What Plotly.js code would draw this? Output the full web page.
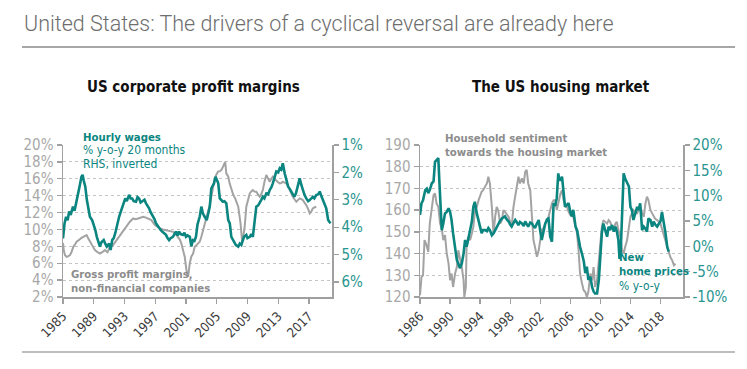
<!DOCTYPE html>
<html>
<head>
<meta charset="utf-8">
<script src="https://cdn.plot.ly/plotly-3.0.1.min.js"></script>
<style>html,body{margin:0;padding:0;background:#fff;}#chart{width:747px;height:369px;}</style>
</head>
<body>
<div id="chart"></div>
<script>
// ---------- Data ----------
// Left panel: gross profit margins, non-financial companies (%), LHS
var marginYears = [1985.0,1985.1,1985.26,1985.48,1985.7,1985.91,1986.1,1986.34,1986.55,1986.77,1987.0,1987.21,1987.4,1987.64,1987.85,1988.07,1988.29,1988.5,1988.72,1988.95,1989.16,1989.5,1989.8,1990.1,1990.45,1990.8,1991.1,1991.5,1991.97,1992.4,1992.84,1993.27,1993.7,1994.13,1994.45,1994.78,1995.1,1995.43,1995.8,1996.08,1996.5,1996.95,1997.3,1997.6,1998.0,1998.46,1998.9,1999.33,1999.7,1999.98,2000.2,2000.4,2000.6,2000.84,2001.06,2001.28,2001.49,2001.7,2001.93,2002.14,2002.36,2002.57,2002.79,2003.0,2003.2,2003.4,2003.6,2003.87,2004.1,2004.3,2004.5,2004.7,2004.9,2005.17,2005.4,2005.6,2005.8,2005.95,2006.1,2006.25,2006.5,2006.7,2006.9,2007.15,2007.4,2007.6,2007.8,2008.1,2008.3,2008.45,2008.64,2008.85,2009.1,2009.3,2009.5,2009.7,2009.9,2010.15,2010.4,2010.6,2010.8,2011.0,2011.2,2011.45,2011.7,2011.9,2012.1,2012.3,2012.5,2012.75,2013.0,2013.2,2013.4,2013.6,2013.85,2014.05,2014.3,2014.5,2014.7,2014.9,2015.1,2015.36,2015.6,2015.8,2016.0,2016.2,2016.4,2016.65,2016.9,2017.1,2017.3,2017.5,2017.7,2017.95];
var marginValues = [8.4,7.5,6.96,6.76,6.85,6.96,7.3,7.94,8.2,8.54,8.7,8.93,9.0,9.13,9.2,9.33,8.93,8.6,8.34,7.9,7.55,7.3,7.15,7.3,7.55,7.3,7.94,8.14,8.74,9.33,9.92,10.51,10.91,11.3,11.2,11.3,11.4,11.5,11.4,11.3,11.11,10.51,10.3,10.12,10.0,9.92,9.8,9.72,9.4,9.13,8.8,8.34,7.5,6.76,5.18,4.39,5.97,6.8,7.15,7.94,8.14,8.34,8.54,9.13,9.8,10.32,11.0,11.9,12.9,13.87,14.9,15.85,16.4,16.84,16.9,17.04,17.4,17.83,18.0,16.64,16.25,15.4,14.66,14.1,13.68,13.2,12.69,10.71,8.6,9.13,10.32,12.69,13.6,14.27,14.5,14.66,14.5,14.47,14.1,13.87,14.2,14.66,15.6,16.44,16.0,15.65,16.0,16.25,16.0,15.85,15.6,15.45,15.5,15.65,15.5,15.45,15.1,14.66,14.3,13.87,13.6,13.28,13.5,13.68,13.6,13.48,13.2,12.89,12.4,11.9,12.1,12.49,12.6,12.69];

// Left panel: hourly wages % y-o-y, led 20 months, RHS inverted
var wageYears = [1985.0,1985.2,1985.4,1985.6,1985.8,1986.0,1986.3,1986.5,1986.7,1987.0,1987.2,1987.4,1987.55,1987.7,1987.9,1988.1,1988.3,1988.5,1988.8,1989.0,1989.2,1989.4,1989.6,1989.8,1990.0,1990.3,1990.5,1990.7,1991.0,1991.2,1991.4,1991.6,1991.8,1992.0,1992.3,1992.5,1992.7,1992.9,1993.1,1993.3,1993.6,1993.8,1994.0,1994.2,1994.5,1994.7,1994.9,1995.1,1995.3,1995.6,1995.8,1996.0,1996.2,1996.4,1996.6,1996.9,1997.1,1997.3,1997.5,1997.7,1997.9,1998.1,1998.4,1998.6,1998.8,1999.0,1999.3,1999.5,1999.7,1999.9,2000.1,2000.3,2000.6,2000.8,2001.0,2001.2,2001.5,2001.7,2001.9,2002.1,2002.3,2002.5,2002.8,2003.0,2003.2,2003.4,2003.7,2003.9,2004.1,2004.3,2004.5,2004.65,2004.85,2005.0,2005.2,2005.4,2005.6,2005.8,2006.0,2006.25,2006.5,2006.7,2006.9,2007.1,2007.3,2007.5,2007.8,2008.0,2008.2,2008.4,2008.55,2008.85,2009.0,2009.3,2009.5,2009.7,2009.94,2010.15,2010.4,2010.6,2010.8,2011.0,2011.2,2011.45,2011.7,2011.9,2012.1,2012.3,2012.5,2012.75,2013.0,2013.2,2013.4,2013.6,2013.85,2014.1,2014.3,2014.5,2014.7,2014.9,2015.1,2015.3,2015.5,2015.8,2016.0,2016.2,2016.4,2016.65,2016.9,2017.1,2017.3,2017.5,2017.7,2017.95,2018.2,2018.4,2018.6,2018.8,2019.0,2019.25,2019.5,2019.8];
var wageValues = [4.41,3.86,3.62,3.75,3.43,3.55,3.25,3.4,3.13,2.64,2.45,2.16,2.09,2.3,2.52,3.0,3.3,3.62,3.75,3.92,4.1,4.35,4.5,4.71,4.55,4.47,4.6,4.71,4.6,4.83,4.47,4.4,4.22,3.95,3.62,3.45,3.25,3.05,2.95,3.05,2.82,2.95,2.95,3.05,3.07,2.9,2.95,3.1,3.07,3.0,3.13,3.2,3.31,3.45,3.55,3.7,3.86,3.95,4.04,4.1,4.16,4.2,4.28,4.4,4.47,4.4,4.35,4.25,4.16,4.3,4.16,4.25,4.28,4.2,4.35,4.3,4.35,4.7,4.47,4.5,4.35,3.9,3.6,3.25,3.49,3.6,3.74,3.5,3.25,2.58,2.45,2.4,2.16,2.3,2.4,2.95,3.0,3.07,3.05,3.13,3.74,3.86,4.35,4.45,4.59,4.65,4.71,4.6,4.65,4.45,4.35,4.28,4.4,4.35,4.25,4.35,3.86,3.25,3.2,3.07,3.0,2.89,2.95,2.77,2.8,2.64,2.55,2.4,2.2,1.97,2.0,1.85,1.9,1.67,2.04,2.3,2.52,2.6,2.7,2.8,2.89,2.77,2.5,2.22,2.45,2.64,2.8,2.95,3.05,3.01,2.95,2.89,2.95,2.83,2.8,2.7,2.85,3.01,3.15,3.31,3.74,3.86];

// Right panel: household sentiment towards the housing market (index), LHS
var sentYears = [1986.0,1986.2,1986.4,1986.6,1986.8,1987.1,1987.3,1987.56,1987.8,1988.0,1988.2,1988.44,1988.67,1988.9,1989.1,1989.33,1989.56,1989.8,1990.0,1990.2,1990.4,1990.67,1990.9,1991.1,1991.3,1991.56,1991.8,1991.9,1992.1,1992.2,1992.4,1992.67,1992.9,1993.1,1993.33,1993.56,1993.8,1994.0,1994.2,1994.4,1994.67,1994.9,1995.1,1995.3,1995.56,1995.78,1996.0,1996.2,1996.4,1996.67,1996.9,1997.1,1997.3,1997.55,1997.8,1998.0,1998.2,1998.44,1998.67,1998.9,1999.1,1999.3,1999.56,1999.8,2000.0,2000.2,2000.4,2000.67,2000.9,2001.1,2001.3,2001.56,2001.8,2002.0,2002.2,2002.45,2002.67,2002.9,2003.1,2003.33,2003.56,2003.78,2004.0,2004.2,2004.45,2004.7,2004.9,2005.1,2005.3,2005.56,2005.78,2006.0,2006.2,2006.4,2006.7,2006.9,2007.1,2007.3,2007.56,2007.78,2008.0,2008.2,2008.4,2008.67,2008.9,2009.1,2009.3,2009.56,2009.8,2010.0,2010.2,2010.4,2010.67,2010.9,2011.1,2011.3,2011.56,2011.8,2012.0,2012.2,2012.4,2012.67,2012.9,2013.1,2013.3,2013.56,2013.8,2014.0,2014.2,2014.4,2014.67,2014.9,2015.1,2015.3,2015.55,2015.78,2016.0,2016.2,2016.4,2016.67,2016.9,2017.1,2017.3,2017.56,2017.8,2018.0,2018.2,2018.4,2018.67,2018.9,2019.1,2019.3,2019.56,2019.8,2020.0];
var sentValues = [120.8,129.2,130,146.2,144.6,140.8,153.8,161.5,166.9,167.7,163.1,161.5,153.8,151.5,146.2,148.5,140,135.4,127.7,130.8,124.6,130.8,133.8,141.5,138.5,133.8,127.7,120,124.6,143.1,147.7,146.2,149.2,152.3,160,161.5,164.6,166.2,168.5,169.2,170.8,172.3,175.4,172.3,161.5,149.2,156.9,161.5,160,153.8,155.4,160,159.2,158,156.9,154.5,152.3,161.5,166.2,172.3,175.4,172.3,174.6,172.3,177.7,178.5,172.3,169.2,158.5,146.2,143.1,138.5,141.5,146.2,150.8,152,153.8,155,156.9,160,163.1,164.6,164.6,160,164,167.7,169.2,164.6,162.3,161.5,159.2,157.7,157.3,156.9,152.3,149.2,141.5,130.8,126.2,123.1,122.3,120,122.3,130.8,127.7,133.8,124.6,127.7,136.9,146.2,152.3,155.4,154.6,153.8,155.4,154.6,152.3,151.5,153.8,154.6,150.8,147.7,141.5,140,143,146.2,152,156.9,158.5,160,159,158.5,160,161.5,159,156.9,163.1,166.2,164.6,160,158.5,156.9,156,155.4,154.5,153.8,151.5,149.2,146,143.1,140,138.5,136.9,134.6,135.4];

// Right panel: new home prices % y-o-y, RHS
var priceYears = [1986.0,1986.2,1986.4,1986.7,1986.9,1987.1,1987.3,1987.56,1987.8,1988.0,1988.2,1988.44,1988.57,1988.75,1988.9,1989.1,1989.33,1989.56,1989.8,1990.0,1990.2,1990.4,1990.67,1990.9,1991.1,1991.3,1991.56,1991.8,1992.0,1992.2,1992.4,1992.7,1992.9,1993.1,1993.3,1993.56,1993.8,1994.0,1994.2,1994.4,1994.67,1994.9,1995.1,1995.3,1995.56,1995.8,1996.0,1996.2,1996.4,1996.65,1996.9,1997.1,1997.3,1997.55,1997.8,1998.0,1998.2,1998.44,1998.67,1998.9,1999.1,1999.3,1999.56,1999.8,2000.0,2000.2,2000.4,2000.67,2000.9,2001.1,2001.3,2001.56,2001.8,2002.0,2002.2,2002.45,2002.67,2002.9,2003.1,2003.33,2003.56,2003.78,2004.0,2004.2,2004.4,2004.55,2004.7,2004.9,2005.1,2005.3,2005.55,2005.78,2006.0,2006.2,2006.4,2006.7,2006.9,2007.1,2007.3,2007.6,2007.8,2008.0,2008.2,2008.4,2008.67,2008.9,2009.1,2009.3,2009.56,2009.8,2010.0,2010.2,2010.4,2010.67,2010.9,2011.1,2011.3,2011.56,2011.8,2012.0,2012.2,2012.4,2012.55,2012.7,2012.9,2013.1,2013.3,2013.56,2013.8,2014.0,2014.2,2014.4,2014.67,2014.9,2015.1,2015.3,2015.56,2015.78,2016.0,2016.2,2016.4,2016.67,2016.9,2017.1,2017.3,2017.56,2017.8,2018.0,2018.2,2018.4,2018.67,2018.9,2019.1];
var priceValues = [6.2,8.5,9.1,11.1,11.4,10.5,11.1,12.4,12.8,16.7,17.0,17.4,13.1,7.8,3.2,4.5,6.5,6.8,7.5,6.8,5.2,2.6,-0.1,-2.7,-3.4,-4.3,-3.4,-1.4,1.25,-0.1,1.25,3.2,4.9,7.8,8.8,6.5,5.2,3.6,2.6,3.2,3.2,3.0,3.6,3.2,2.2,2.6,3.2,3.7,4.2,5.0,5.5,5.7,5.9,5.3,4.9,4.3,3.9,4.6,5.2,4.7,4.2,4.8,4.5,4.0,4.9,4.4,3.9,4.7,4.5,4.0,3.6,4.5,5.2,3.0,1.25,3.0,4.5,5.3,5.5,1.9,0.9,8.5,8.0,9.5,14.4,13.1,13.1,13.75,10.5,7.8,8.2,8.5,6.8,5.9,7.2,3.9,3.2,1.5,-0.1,-1.7,-3.0,-5.3,-4.0,-6.6,-6.0,-8.0,-8.9,-9.3,-9.3,-6.6,-0.7,2.6,4.5,3.2,1.9,3.9,3.2,4.2,2.9,3.9,2.9,1.25,-2.5,-1.4,7.8,14.4,13.4,12.4,11.8,7.8,7.2,5.2,6.5,7.8,7.2,8.5,3.2,3.9,3.5,2.9,5.5,5.2,3.9,4.9,4.3,3.9,4.5,4.9,6.8,5.2,2.6,-0.1,-1.05];

// Tick labels
var leftXTicks = [1985,1989,1993,1997,2001,2005,2009,2013,2017];
var rightXTicks = [1986,1990,1994,1998,2002,2006,2010,2014,2018];
var wageTicks = [1,2,3,4,5,6];
var sentTicks = [120,130,140,150,160,170,180,190];
var priceTicks = [-10,-5,0,5,10,15,20];
var marginTicks = [2,4,6,8,10,12,14,16,18,20];

// ---------- Styling ----------
var W = 747, H = 369;
var NARROW = "'Liberation Sans Narrow', 'Arial Narrow', 'DejaVu Sans Condensed', sans-serif";
var TEAL = '#0b8580';
var GREY = '#a3a3a3';
var AXIS = '#a0a0a0';
function px(x){return x/W;}
function py(y){return 1-y/H;}

var xdomL = [px(63), px(332)];
var xdomR = [px(420), px(683)];
var ydom = [py(297), py(145)];

var traces = [
  {x: marginYears, y: marginValues, xaxis:'x', yaxis:'y', type:'scatter', mode:'lines',
   line:{color:GREY, width:2}, hoverinfo:'skip'},
  {x: wageYears, y: wageValues, xaxis:'x', yaxis:'y2', type:'scatter', mode:'lines',
   line:{color:TEAL, width:2.6}, hoverinfo:'skip'},
  {x: sentYears, y: sentValues, xaxis:'x2', yaxis:'y3', type:'scatter', mode:'lines',
   line:{color:GREY, width:2}, hoverinfo:'skip'},
  {x: priceYears, y: priceValues, xaxis:'x2', yaxis:'y4', type:'scatter', mode:'lines',
   line:{color:TEAL, width:2.6}, hoverinfo:'skip'}
];

function xAxis(dom, range, ticks, anchor){
  return {domain: dom, range: range, anchor: anchor, tickvals: ticks, ticktext: ticks.map(String),
    tickangle: -45, ticks:'outside', ticklen:5, tickcolor:AXIS, tickwidth:1.3,
    showline:true, linecolor:AXIS, linewidth:1.5, showgrid:false, zeroline:false,
    tickfont:{family:NARROW, size:13, color:'#3a3a3a'}, fixedrange:true};
}
function yLeft(range, ticks, suffix, anchor){
  return {domain: ydom, range: range, anchor: anchor, tickvals: ticks,
    ticktext: ticks.map(function(v){return v+suffix;}),
    ticks:'outside', ticklen:5, tickcolor:AXIS, tickwidth:1.3,
    showline:true, linecolor:AXIS, linewidth:1.5,
    showgrid:true, gridcolor:'#c4c4c4', gridwidth:1, griddash:'dot', zeroline:false,
    tickfont:{family:NARROW, size:15, color:'#a8a8a8'}, fixedrange:true};
}
function yRight(range, ticks, overlay, anchor){
  return {domain: ydom, range: range, anchor: anchor, overlaying: overlay, side:'right', tickvals: ticks,
    ticktext: ticks.map(function(v){return v+'%';}),
    ticks:'outside', ticklen:5, tickcolor:AXIS, tickwidth:1.3,
    showline:true, linecolor:AXIS, linewidth:1.5, showgrid:false, zeroline:false,
    tickfont:{family:NARROW, size:15, color:'#2a9590'}, fixedrange:true};
}

function ann(text, x, y, size, color, xanchor, bold){
  return {text: bold ? '<b>'+text+'</b>' : text, xref:'paper', yref:'paper', x:px(x), y:py(y),
    xanchor: xanchor||'left', yanchor:'middle', showarrow:false,
    font:{family:NARROW, size:size, color:color}};
}

var BS = 11.3, RS = 12;
var layout = {
  width: W, height: H,
  margin:{l:0, r:0, t:0, b:0},
  paper_bgcolor:'#fff', plot_bgcolor:'#fff',
  showlegend:false,
  title:{text:'United States: The drivers of a cyclical reversal are already here',
    x:px(24), xanchor:'left', y:py(23), yanchor:'middle', yref:'container', xref:'container',
    font:{family:'Roboto, sans-serif', size:21.5, weight:300, color:'#6e6e6e'}},
  xaxis: xAxis(xdomL, [1985, 2020], leftXTicks, 'y'),
  yaxis: yLeft([2, 20], marginTicks, '%', 'x'),
  yaxis2: yRight([6.547, 1], wageTicks, 'y', 'x'),
  xaxis2: xAxis(xdomR, [1986, 2021], rightXTicks, 'y3'),
  yaxis3: yLeft([120, 190], sentTicks, '', 'x2'),
  yaxis4: yRight([-10, 20], priceTicks, 'y3', 'x2'),
  shapes:[
    {type:'line', xref:'paper', yref:'paper', x0:px(22), x1:px(735), y0:py(47), y1:py(47), line:{color:'#8a8a8a', width:1.5}},
    {type:'line', xref:'paper', yref:'paper', x0:px(22), x1:px(735), y0:py(352), y1:py(352), line:{color:'#a8a8a8', width:1.5}}
  ],
  annotations:[
    ann('US corporate profit margins', 193, 87, 15, '#111', 'center', true),
    ann('The US housing market', 561, 87, 15, '#111', 'center', true),
    ann('Hourly wages', 81, 137, BS, TEAL, 'left', true),
    ann('% y-o-y 20 months', 81, 150.5, RS, TEAL, 'left', false),
    ann('RHS, inverted', 81, 164, RS, TEAL, 'left', false),
    ann('Gross profit margins,', 69, 274, BS, '#8c8c8c', 'left', true),
    ann('non-financial companies', 69, 288, BS, '#8c8c8c', 'left', true),
    ann('Household sentiment', 443, 139, BS, '#8c8c8c', 'left', true),
    ann('towards the housing market', 443, 152.5, BS, '#8c8c8c', 'left', true),
    ann('New', 617, 257, BS, TEAL, 'left', true),
    ann('home prices', 617, 271.5, BS, TEAL, 'left', true),
    ann('% y-o-y', 617, 286, RS, TEAL, 'left', false)
  ]
};

Plotly.newPlot('chart', traces, layout, {staticPlot:true, displayModeBar:false});
</script>
</body>
</html>
